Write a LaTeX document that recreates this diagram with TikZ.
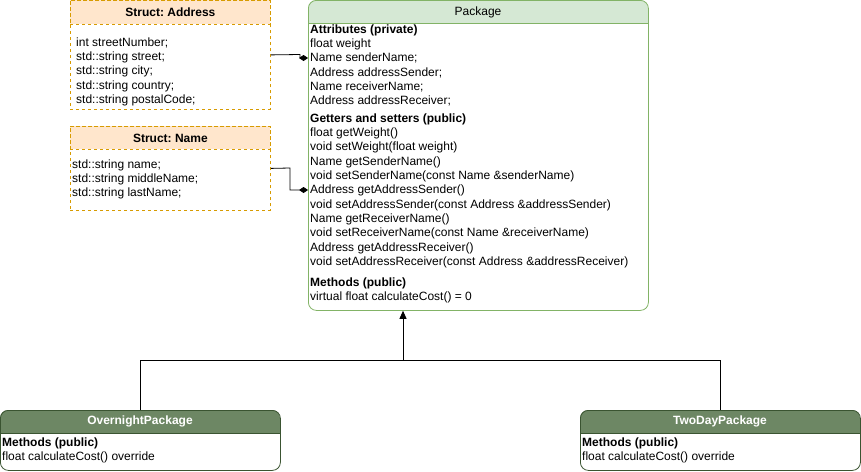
\documentclass[tikz,border=0pt]{standalone}
\usepackage{fontspec}
\setmainfont{Liberation Sans}
\frenchspacing
\usetikzlibrary{arrows.meta,positioning}
\definecolor{structfill}{HTML}{FFE6CC}
\definecolor{structline}{HTML}{D79B00}
\definecolor{pkgfill}{HTML}{D5E8D4}
\definecolor{pkgline}{HTML}{82B366}
\definecolor{subfill}{HTML}{6D8764}
\definecolor{subline}{HTML}{3A5431}
\begin{document}
\begin{tikzpicture}[x=1pt, y=-1pt,
        members/.style={anchor=north west, inner sep=0pt, align=left, font=\fontsize{12}{14.3}\selectfont},
        structhead/.style={draw=structline, dashed, fill=structfill, line width=0.8pt, anchor=north west, minimum width=200pt, inner sep=0pt, font=\fontsize{12}{14}\selectfont\bfseries},
        structbox/.style={draw=structline, dashed, line width=0.8pt, anchor=north west, minimum width=200pt, inner sep=0pt},
        pkgbox/.style={draw=pkgline, line width=0.8pt, rounded corners=8pt, anchor=north west, inner sep=0pt},
        subbox/.style={draw=subline, line width=0.8pt, rounded corners=8pt, anchor=north west, minimum width=280pt, minimum height=60pt, inner sep=0pt},
        title/.style={inner sep=0pt, font=\fontsize{12}{14}\selectfont},
        compose/.style={-{Diamond[length=9pt,width=6pt]}, line width=0.8pt},
        inherit/.style={-{Triangle[length=8pt,width=7pt]}, line width=0.8pt}
    ]
    \useasboundingbox (0,0) rectangle (861,471);
    % Structs
    \node[structhead, minimum height=24pt] (addrhead) at (70,0) {Struct: Address};
    \node[structbox, minimum height=109pt] (addr) at (70,0) {};
    \node[members] (addrtext) at (76,37.5) {int streetNumber;\\std::string street;\\std::string city;\\std::string country;\\std::string postalCode;};
    \node[structhead, minimum height=23pt] (namehead) at (70,126) {Struct: Name};
    \node[structbox, minimum height=84pt] (name) at (70,126) {};
    \node[members] (nametext) at (72,159.5) {std::string name;\\std::string middleName;\\std::string lastName;};
    % Package
    \fill[pkgfill] (308,23) [rounded corners=8pt] -- (308,0) -- (648,0) [sharp corners] -- (648,23) -- cycle;
    \draw[pkgline, line width=0.8pt] (308,23) -- (648,23);
    \node[pkgbox, minimum width=340pt, minimum height=310pt] (pkg) at (308,0) {};
    \node[title] (pkgtitle) at (478,12) {Package};
    \node[members] (attrs) at (310,24.5) {\textbf{Attributes (private)}\\float weight\\Name senderName;\\Address addressSender;\\Name receiverName;\\Address addressReceiver;};
    \node[members] (getset) at (310,113.5) {\textbf{Getters and setters (public)}\\float getWeight()\\void setWeight(float weight)\\Name getSenderName()\\void setSenderName(const Name \&senderName)\\Address getAddressSender()\\void setAddressSender(const Address \&addressSender)\\Name getReceiverName()\\void setReceiverName(const Name \&receiverName)\\Address getAddressReceiver()\\void setAddressReceiver(const Address \&addressReceiver)};
    \node[members] (methods) at (310,277.5) {\textbf{Methods (public)}\\virtual float calculateCost() = 0};
    % Subclasses
    \fill[subfill] (0,433) [rounded corners=8pt] -- (0,410) -- (280,410) [sharp corners] -- (280,433) -- cycle;
    \draw[subline, line width=0.8pt] (0,433) -- (280,433);
    \node[subbox] (over) at (0,410) {};
    \node[title, text=white, font=\fontsize{12}{14}\selectfont\bfseries] (overtitle) at (140,421.5) {OvernightPackage};
    \node[members] (overtext) at (2,437.5) {\textbf{Methods (public)}\\float calculateCost() override};
    \fill[subfill] (580,433) [rounded corners=8pt] -- (580,410) -- (860,410) [sharp corners] -- (860,433) -- cycle;
    \draw[subline, line width=0.8pt] (580,433) -- (860,433);
    \node[subbox] (twoday) at (580,410) {};
    \node[title, text=white, font=\fontsize{12}{14}\selectfont\bfseries] (twodaytitle) at (720,421.5) {TwoDayPackage};
    \node[members] (twodaytext) at (582,437.5) {\textbf{Methods (public)}\\float calculateCost() override};
    % Connectors
    \coordinate (sendername) at (308,58);
    \coordinate (addrsender) at (308,190);
    \coordinate (bus) at (403,360);
    \draw[compose] (addr.east) -- (300,54.5) |- (sendername);
    \draw[compose] (name.east) -- (290,168) |- (addrsender);
    \draw[line width=0.8pt] (over.north) |- (bus);
    \draw[line width=0.8pt] (twoday.north) |- (bus);
    \draw[inherit] (bus) -- (bus |- pkg.south);
\end{tikzpicture}
\end{document}
